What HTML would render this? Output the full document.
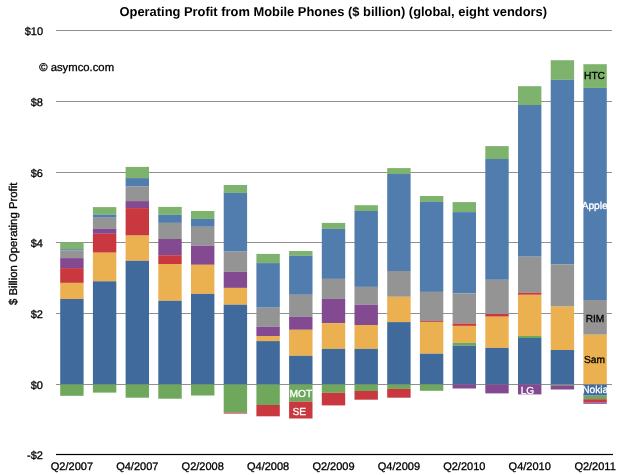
<!DOCTYPE html>
<html><head><meta charset="utf-8"><title>Operating Profit from Mobile Phones</title>
<style>html,body{margin:0;padding:0;background:#fff;width:620px;height:475px;overflow:hidden}</style></head>
<body>
<svg width="620" height="475" viewBox="0 0 620 475" style="position:absolute;left:0;top:0;will-change:transform;text-rendering:geometricPrecision;font-family:'Liberation Sans',sans-serif">
<rect x="0" y="0" width="620" height="475" fill="#ffffff"/>
<rect x="56" y="30" width="556" height="1" fill="#909090"/>
<rect x="56" y="101" width="556" height="1" fill="#909090"/>
<rect x="56" y="172" width="556" height="1" fill="#909090"/>
<rect x="56" y="242" width="556" height="1" fill="#909090"/>
<rect x="56" y="313" width="556" height="1" fill="#909090"/>
<rect x="56" y="384" width="556" height="1" fill="#909090"/>
<rect x="60.20" y="242.30" width="23.4" height="6.90" fill="#7db36c"/>
<rect x="60.20" y="249.20" width="23.4" height="1.00" fill="#517dae"/>
<rect x="60.20" y="250.20" width="23.4" height="7.90" fill="#949494"/>
<rect x="60.20" y="258.10" width="23.4" height="10.00" fill="#834a92"/>
<rect x="60.20" y="268.10" width="23.4" height="14.80" fill="#c9383f"/>
<rect x="60.20" y="282.90" width="23.4" height="16.10" fill="#ebb04f"/>
<rect x="60.20" y="299.00" width="23.4" height="85.50" fill="#40699c"/>
<rect x="60.20" y="384.50" width="23.4" height="11.30" fill="#6fa75c"/>
<rect x="92.90" y="207.10" width="23.4" height="7.70" fill="#7db36c"/>
<rect x="92.90" y="214.80" width="23.4" height="2.90" fill="#517dae"/>
<rect x="92.90" y="217.70" width="23.4" height="11.20" fill="#949494"/>
<rect x="92.90" y="228.90" width="23.4" height="4.90" fill="#834a92"/>
<rect x="92.90" y="233.80" width="23.4" height="18.90" fill="#c9383f"/>
<rect x="92.90" y="252.70" width="23.4" height="28.60" fill="#ebb04f"/>
<rect x="92.90" y="281.30" width="23.4" height="103.20" fill="#40699c"/>
<rect x="92.90" y="384.50" width="23.4" height="8.10" fill="#6fa75c"/>
<rect x="125.60" y="166.90" width="23.4" height="11.20" fill="#7db36c"/>
<rect x="125.60" y="178.10" width="23.4" height="8.50" fill="#517dae"/>
<rect x="125.60" y="186.60" width="23.4" height="14.50" fill="#949494"/>
<rect x="125.60" y="201.10" width="23.4" height="7.00" fill="#834a92"/>
<rect x="125.60" y="208.10" width="23.4" height="27.50" fill="#c9383f"/>
<rect x="125.60" y="235.60" width="23.4" height="25.20" fill="#ebb04f"/>
<rect x="125.60" y="260.80" width="23.4" height="123.70" fill="#40699c"/>
<rect x="125.60" y="384.50" width="23.4" height="13.20" fill="#6fa75c"/>
<rect x="158.30" y="206.90" width="23.4" height="7.90" fill="#7db36c"/>
<rect x="158.30" y="214.80" width="23.4" height="8.10" fill="#517dae"/>
<rect x="158.30" y="222.90" width="23.4" height="16.10" fill="#949494"/>
<rect x="158.30" y="239.00" width="23.4" height="16.20" fill="#834a92"/>
<rect x="158.30" y="255.20" width="23.4" height="8.80" fill="#c9383f"/>
<rect x="158.30" y="264.00" width="23.4" height="36.80" fill="#ebb04f"/>
<rect x="158.30" y="300.80" width="23.4" height="83.70" fill="#40699c"/>
<rect x="158.30" y="384.50" width="23.4" height="14.20" fill="#6fa75c"/>
<rect x="191.00" y="211.00" width="23.4" height="7.90" fill="#7db36c"/>
<rect x="191.00" y="218.90" width="23.4" height="7.90" fill="#517dae"/>
<rect x="191.00" y="226.80" width="23.4" height="18.90" fill="#949494"/>
<rect x="191.00" y="245.70" width="23.4" height="19.10" fill="#834a92"/>
<rect x="191.00" y="264.80" width="23.4" height="29.10" fill="#ebb04f"/>
<rect x="191.00" y="293.90" width="23.4" height="90.60" fill="#40699c"/>
<rect x="191.00" y="384.50" width="23.4" height="11.00" fill="#6fa75c"/>
<rect x="223.70" y="185.00" width="23.4" height="7.90" fill="#7db36c"/>
<rect x="223.70" y="192.90" width="23.4" height="58.70" fill="#517dae"/>
<rect x="223.70" y="251.60" width="23.4" height="20.20" fill="#949494"/>
<rect x="223.70" y="271.80" width="23.4" height="16.10" fill="#834a92"/>
<rect x="223.70" y="287.90" width="23.4" height="16.80" fill="#ebb04f"/>
<rect x="223.70" y="304.70" width="23.4" height="79.80" fill="#40699c"/>
<rect x="223.70" y="384.50" width="23.4" height="28.20" fill="#6fa75c"/>
<rect x="223.70" y="412.70" width="23.4" height="0.90" fill="#c9383f"/>
<rect x="256.40" y="253.90" width="23.4" height="9.20" fill="#7db36c"/>
<rect x="256.40" y="263.10" width="23.4" height="44.60" fill="#517dae"/>
<rect x="256.40" y="307.70" width="23.4" height="19.10" fill="#949494"/>
<rect x="256.40" y="326.80" width="23.4" height="9.20" fill="#834a92"/>
<rect x="256.40" y="336.00" width="23.4" height="5.10" fill="#ebb04f"/>
<rect x="256.40" y="341.10" width="23.4" height="43.40" fill="#40699c"/>
<rect x="256.40" y="384.50" width="23.4" height="20.50" fill="#6fa75c"/>
<rect x="256.40" y="405.00" width="23.4" height="11.30" fill="#c9383f"/>
<rect x="289.10" y="251.00" width="23.4" height="4.80" fill="#7db36c"/>
<rect x="289.10" y="255.80" width="23.4" height="39.00" fill="#517dae"/>
<rect x="289.10" y="294.80" width="23.4" height="22.10" fill="#949494"/>
<rect x="289.10" y="316.90" width="23.4" height="12.90" fill="#834a92"/>
<rect x="289.10" y="329.80" width="23.4" height="26.00" fill="#ebb04f"/>
<rect x="289.10" y="355.80" width="23.4" height="28.70" fill="#40699c"/>
<rect x="289.10" y="384.50" width="23.4" height="17.20" fill="#6fa75c"/>
<rect x="289.10" y="401.70" width="23.4" height="16.80" fill="#c9383f"/>
<rect x="321.80" y="222.90" width="23.4" height="6.00" fill="#7db36c"/>
<rect x="321.80" y="228.90" width="23.4" height="50.00" fill="#517dae"/>
<rect x="321.80" y="278.90" width="23.4" height="20.00" fill="#949494"/>
<rect x="321.80" y="298.90" width="23.4" height="24.20" fill="#834a92"/>
<rect x="321.80" y="323.10" width="23.4" height="25.80" fill="#ebb04f"/>
<rect x="321.80" y="348.90" width="23.4" height="35.60" fill="#40699c"/>
<rect x="321.80" y="384.50" width="23.4" height="8.30" fill="#6fa75c"/>
<rect x="321.80" y="392.80" width="23.4" height="12.60" fill="#c9383f"/>
<rect x="354.50" y="205.20" width="23.4" height="5.80" fill="#7db36c"/>
<rect x="354.50" y="211.00" width="23.4" height="75.90" fill="#517dae"/>
<rect x="354.50" y="286.90" width="23.4" height="17.90" fill="#949494"/>
<rect x="354.50" y="304.80" width="23.4" height="20.20" fill="#834a92"/>
<rect x="354.50" y="325.00" width="23.4" height="23.90" fill="#ebb04f"/>
<rect x="354.50" y="348.90" width="23.4" height="35.60" fill="#40699c"/>
<rect x="354.50" y="384.50" width="23.4" height="6.50" fill="#6fa75c"/>
<rect x="354.50" y="391.00" width="23.4" height="8.70" fill="#c9383f"/>
<rect x="387.20" y="168.10" width="23.4" height="5.90" fill="#7db36c"/>
<rect x="387.20" y="174.00" width="23.4" height="97.00" fill="#517dae"/>
<rect x="387.20" y="271.00" width="23.4" height="25.80" fill="#949494"/>
<rect x="387.20" y="296.80" width="23.4" height="25.30" fill="#ebb04f"/>
<rect x="387.20" y="322.10" width="23.4" height="62.40" fill="#40699c"/>
<rect x="387.20" y="384.50" width="23.4" height="4.40" fill="#6fa75c"/>
<rect x="387.20" y="388.90" width="23.4" height="8.80" fill="#c9383f"/>
<rect x="419.90" y="196.00" width="23.4" height="5.90" fill="#7db36c"/>
<rect x="419.90" y="201.90" width="23.4" height="90.00" fill="#517dae"/>
<rect x="419.90" y="291.90" width="23.4" height="29.10" fill="#949494"/>
<rect x="419.90" y="321.00" width="23.4" height="0.90" fill="#c9383f"/>
<rect x="419.90" y="321.90" width="23.4" height="31.80" fill="#ebb04f"/>
<rect x="419.90" y="353.70" width="23.4" height="30.80" fill="#40699c"/>
<rect x="419.90" y="384.50" width="23.4" height="6.30" fill="#6fa75c"/>
<rect x="452.60" y="202.10" width="23.4" height="10.00" fill="#7db36c"/>
<rect x="452.60" y="212.10" width="23.4" height="81.40" fill="#517dae"/>
<rect x="452.60" y="293.50" width="23.4" height="30.00" fill="#949494"/>
<rect x="452.60" y="323.50" width="23.4" height="2.40" fill="#c9383f"/>
<rect x="452.60" y="325.90" width="23.4" height="16.90" fill="#ebb04f"/>
<rect x="452.60" y="342.80" width="23.4" height="3.00" fill="#6fa75c"/>
<rect x="452.60" y="345.80" width="23.4" height="38.70" fill="#40699c"/>
<rect x="452.60" y="384.50" width="23.4" height="4.00" fill="#834a92"/>
<rect x="485.30" y="146.10" width="23.4" height="12.90" fill="#7db36c"/>
<rect x="485.30" y="159.00" width="23.4" height="120.80" fill="#517dae"/>
<rect x="485.30" y="279.80" width="23.4" height="34.20" fill="#949494"/>
<rect x="485.30" y="314.00" width="23.4" height="2.70" fill="#c9383f"/>
<rect x="485.30" y="316.70" width="23.4" height="31.20" fill="#ebb04f"/>
<rect x="485.30" y="347.90" width="23.4" height="36.60" fill="#40699c"/>
<rect x="485.30" y="384.50" width="23.4" height="8.90" fill="#834a92"/>
<rect x="518.00" y="86.20" width="23.4" height="18.80" fill="#7db36c"/>
<rect x="518.00" y="105.00" width="23.4" height="151.70" fill="#517dae"/>
<rect x="518.00" y="256.70" width="23.4" height="36.00" fill="#949494"/>
<rect x="518.00" y="292.70" width="23.4" height="2.10" fill="#c9383f"/>
<rect x="518.00" y="294.80" width="23.4" height="41.10" fill="#ebb04f"/>
<rect x="518.00" y="335.90" width="23.4" height="2.10" fill="#6fa75c"/>
<rect x="518.00" y="338.00" width="23.4" height="46.50" fill="#40699c"/>
<rect x="518.00" y="384.50" width="23.4" height="9.90" fill="#834a92"/>
<rect x="550.70" y="60.20" width="23.4" height="19.60" fill="#7db36c"/>
<rect x="550.70" y="79.80" width="23.4" height="184.40" fill="#517dae"/>
<rect x="550.70" y="264.20" width="23.4" height="42.40" fill="#949494"/>
<rect x="550.70" y="306.60" width="23.4" height="43.40" fill="#ebb04f"/>
<rect x="550.70" y="350.00" width="23.4" height="34.50" fill="#40699c"/>
<rect x="550.70" y="384.50" width="23.4" height="0.80" fill="#6fa75c"/>
<rect x="550.70" y="385.30" width="23.4" height="4.20" fill="#834a92"/>
<rect x="583.40" y="64.20" width="23.4" height="23.70" fill="#7db36c"/>
<rect x="583.40" y="87.90" width="23.4" height="212.10" fill="#517dae"/>
<rect x="583.40" y="300.00" width="23.4" height="34.70" fill="#949494"/>
<rect x="583.40" y="334.70" width="23.4" height="49.80" fill="#ebb04f"/>
<rect x="583.40" y="384.50" width="23.4" height="11.10" fill="#40699c"/>
<rect x="583.40" y="395.60" width="23.4" height="3.60" fill="#6fa75c"/>
<rect x="583.40" y="399.20" width="23.4" height="3.20" fill="#c9383f"/>
<rect x="583.40" y="402.40" width="23.4" height="1.40" fill="#834a92"/>
<rect x="56" y="453.9" width="557" height="1.2" fill="#000"/>
<text x="43.0" y="35" font-size="11" text-anchor="end" fill="#000" stroke="#000" stroke-width="0.3">$10</text>
<text x="43.0" y="106" font-size="11" text-anchor="end" fill="#000" stroke="#000" stroke-width="0.3">$8</text>
<text x="43.0" y="177" font-size="11" text-anchor="end" fill="#000" stroke="#000" stroke-width="0.3">$6</text>
<text x="43.0" y="247" font-size="11" text-anchor="end" fill="#000" stroke="#000" stroke-width="0.3">$4</text>
<text x="43.0" y="318" font-size="11" text-anchor="end" fill="#000" stroke="#000" stroke-width="0.3">$2</text>
<text x="43.0" y="389" font-size="11" text-anchor="end" fill="#000" stroke="#000" stroke-width="0.3">$0</text>
<text x="43.0" y="459" font-size="11" text-anchor="end" fill="#000" stroke="#000" stroke-width="0.3">-$2</text>
<text x="71.90" y="470" font-size="11" text-anchor="middle" fill="#000" stroke="#000" stroke-width="0.3">Q2/2007</text>
<text x="137.30" y="470" font-size="11" text-anchor="middle" fill="#000" stroke="#000" stroke-width="0.3">Q4/2007</text>
<text x="202.70" y="470" font-size="11" text-anchor="middle" fill="#000" stroke="#000" stroke-width="0.3">Q2/2008</text>
<text x="268.10" y="470" font-size="11" text-anchor="middle" fill="#000" stroke="#000" stroke-width="0.3">Q4/2008</text>
<text x="333.50" y="470" font-size="11" text-anchor="middle" fill="#000" stroke="#000" stroke-width="0.3">Q2/2009</text>
<text x="398.90" y="470" font-size="11" text-anchor="middle" fill="#000" stroke="#000" stroke-width="0.3">Q4/2009</text>
<text x="464.30" y="470" font-size="11" text-anchor="middle" fill="#000" stroke="#000" stroke-width="0.3">Q2/2010</text>
<text x="529.70" y="470" font-size="11" text-anchor="middle" fill="#000" stroke="#000" stroke-width="0.3">Q4/2010</text>
<text x="595.10" y="470" font-size="11" text-anchor="middle" fill="#000" stroke="#000" stroke-width="0.3">Q2/2011</text>
<text x="333.3" y="15.8" font-size="12.9" font-weight="bold" text-anchor="middle" fill="#000">Operating Profit from Mobile Phones ($ billion) (global, eight vendors)</text>
<text x="39.2" y="71" font-size="11.3" fill="#000" stroke="#000" stroke-width="0.3">© asymco.com</text>
<text transform="translate(17.1,243.8) rotate(-90)" font-size="11.35" text-anchor="middle" fill="#000" stroke="#000" stroke-width="0.3">$ Billion Operating Profit</text>
<text x="594.50" y="79" font-size="10.2" text-anchor="middle" fill="#000" stroke="#000" stroke-width="0.3">HTC</text>
<text x="594.70" y="209" font-size="10.2" text-anchor="middle" fill="#fff" stroke="#fff" stroke-width="0.3">Apple</text>
<text x="595.00" y="322" font-size="10.2" text-anchor="middle" fill="#000" stroke="#000" stroke-width="0.3">RIM</text>
<text x="594.40" y="363" font-size="10.2" text-anchor="middle" fill="#000" stroke="#000" stroke-width="0.3">Sam</text>
<text x="595.20" y="393" font-size="10.2" text-anchor="middle" fill="#fff" stroke="#fff" stroke-width="0.3">Nokia</text>
<text x="300.80" y="396.6" font-size="10.2" text-anchor="middle" fill="#fff" stroke="#fff" stroke-width="0.3">MOT</text>
<text x="299.20" y="415" font-size="10.2" text-anchor="middle" fill="#fff" stroke="#fff" stroke-width="0.3">SE</text>
<text x="527.50" y="394" font-size="10.2" text-anchor="middle" fill="#fff" stroke="#fff" stroke-width="0.3">LG</text>
</svg>
</body></html>
